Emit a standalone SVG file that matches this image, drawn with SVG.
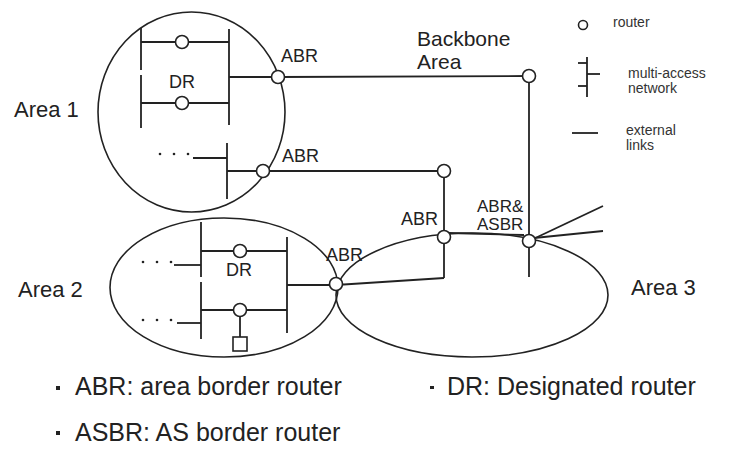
<svg xmlns="http://www.w3.org/2000/svg" width="736" height="476" viewBox="0 0 736 476">
<style>
.ln{stroke:#222;stroke-width:1.8;fill:none}
.area{stroke:#222;stroke-width:1.6;fill:none}
.rt{stroke:#222;stroke-width:1.6;fill:#fff}
.t{font-family:"Liberation Sans",Arial,sans-serif;fill:#222}
.big{font-size:22px}
.bb{font-size:21px}
.lab{font-size:18px}
.lab2{font-size:17px}
.leg{font-size:14px;fill:#333}
.bot{font-size:25px}
.dot{fill:#222}
</style>
<rect width="736" height="476" fill="#fff"/>

<g id="area1">
  <ellipse class="area" cx="191.5" cy="112" rx="93.5" ry="100"/>
  <text class="t big" x="14" y="117">Area 1</text>
  <line class="ln" x1="141" y1="28" x2="141" y2="70"/>
  <line class="ln" x1="141" y1="75" x2="141" y2="128"/>
  <line class="ln" x1="229" y1="29" x2="229" y2="125"/>
  <line class="ln" x1="141" y1="42" x2="229" y2="42"/>
  <line class="ln" x1="141" y1="103" x2="229" y2="103"/>
  <line class="ln" x1="229" y1="77" x2="278" y2="77"/>
  <circle class="rt" cx="182" cy="42" r="6.5"/>
  <circle class="rt" cx="182" cy="103" r="6.5"/>
  <text class="t lab" x="182" y="88" text-anchor="middle">DR</text>
  <circle class="dot" cx="160" cy="154" r="1.3"/>
  <circle class="dot" cx="174" cy="154" r="1.3"/>
  <circle class="dot" cx="188" cy="154" r="1.3"/>
  <line class="ln" x1="193" y1="158" x2="227" y2="158"/>
  <line class="ln" x1="227" y1="143" x2="227" y2="199"/>
  <line class="ln" x1="227" y1="171" x2="263" y2="171"/>
</g>

<g id="area2">
  <ellipse class="area" cx="224" cy="287.5" rx="114" ry="69.5"/>
  <text class="t big" x="18" y="297">Area 2</text>
  <line class="ln" x1="201" y1="222" x2="201" y2="277"/>
  <line class="ln" x1="201" y1="282" x2="201" y2="339"/>
  <line class="ln" x1="287" y1="237" x2="287" y2="333"/>
  <line class="ln" x1="201" y1="251" x2="287" y2="251"/>
  <line class="ln" x1="201" y1="310" x2="287" y2="310"/>
  <line class="ln" x1="287" y1="285" x2="336" y2="285"/>
  <line class="ln" x1="240" y1="310" x2="240" y2="337"/>
  <circle class="rt" cx="240" cy="251" r="6.5"/>
  <circle class="rt" cx="240" cy="310" r="6.5"/>
  <rect class="rt" x="233" y="337" width="14" height="14"/>
  <text class="t lab" x="239" y="276" text-anchor="middle">DR</text>
  <circle class="dot" cx="143" cy="262" r="1.3"/>
  <circle class="dot" cx="157" cy="262" r="1.3"/>
  <circle class="dot" cx="171" cy="262" r="1.3"/>
  <line class="ln" x1="174" y1="265" x2="201" y2="265"/>
  <circle class="dot" cx="143" cy="320" r="1.3"/>
  <circle class="dot" cx="157" cy="320" r="1.3"/>
  <circle class="dot" cx="171" cy="320" r="1.3"/>
  <line class="ln" x1="177" y1="323" x2="201" y2="323"/>
</g>

<g id="area3">
  <ellipse class="area" cx="472" cy="295" rx="136" ry="62"/>
  <text class="t big" x="631" y="295">Area 3</text>
</g>

<g id="backbone">
  <text class="t bb" x="417" y="46">Backbone</text>
  <text class="t bb" x="417" y="69">Area</text>
</g>

<g id="connectors">
  <line class="ln" x1="278" y1="77" x2="529" y2="76"/>
  <line class="ln" x1="529" y1="76" x2="529" y2="277"/>
  <line class="ln" x1="263" y1="171" x2="444" y2="171"/>
  <line class="ln" x1="444" y1="171" x2="444" y2="278"/>
  <line class="ln" x1="444" y1="278" x2="336" y2="285"/>
  <line class="ln" x1="449" y1="233" x2="524" y2="235"/>
  <line class="ln" x1="529" y1="241" x2="603" y2="206"/>
  <line class="ln" x1="534" y1="238" x2="603" y2="231"/>
</g>

<g id="r-abr1"><circle class="rt" cx="278" cy="77" r="6.5"/><text class="t lab" x="281" y="62">ABR</text></g>
<g id="r-abr2"><circle class="rt" cx="263" cy="171" r="6.5"/><text class="t lab" x="282" y="162">ABR</text></g>
<g id="r-bb1"><circle class="rt" cx="529" cy="76" r="6.5"/></g>
<g id="r-bb2"><circle class="rt" cx="444" cy="171" r="6.5"/></g>
<g id="r-abr3"><circle class="rt" cx="444" cy="237" r="6.5"/><text class="t lab" x="401" y="225">ABR</text></g>
<g id="r-abr4"><circle class="rt" cx="336" cy="284" r="6.5"/><text class="t lab" x="326" y="261">ABR</text></g>
<g id="r-asbr"><circle class="rt" cx="529" cy="241" r="6.5"/><text class="t lab2" x="477" y="212">ABR&amp;</text><text class="t lab2" x="477" y="230">ASBR</text></g>

<g id="legend">
  <circle class="rt" cx="583" cy="25" r="4.5"/>
  <text class="t leg" x="613" y="27">router</text>
  <line class="ln" x1="587" y1="57" x2="587" y2="97"/>
  <line class="ln" x1="578" y1="63" x2="587" y2="63"/>
  <line class="ln" x1="587" y1="74" x2="600" y2="74"/>
  <line class="ln" x1="578" y1="86" x2="587" y2="86"/>
  <text class="t leg" x="628" y="78">multi-access</text>
  <text class="t leg" x="628" y="93">network</text>
  <line class="ln" x1="572" y1="133" x2="598" y2="133"/>
  <text class="t leg" x="626" y="135">external</text>
  <text class="t leg" x="626" y="150">links</text>
</g>

<g id="notes">
  <rect class="dot" x="56" y="386" width="4" height="4"/>
  <text class="t bot" x="75" y="395">ABR: area border router</text>
  <rect class="dot" x="430" y="386" width="4" height="3"/>
  <text class="t bot" x="447" y="395">DR: Designated router</text>
  <rect class="dot" x="56" y="431" width="4" height="4"/>
  <text class="t bot" x="75" y="441">ASBR: AS border router</text>
</g>
</svg>
